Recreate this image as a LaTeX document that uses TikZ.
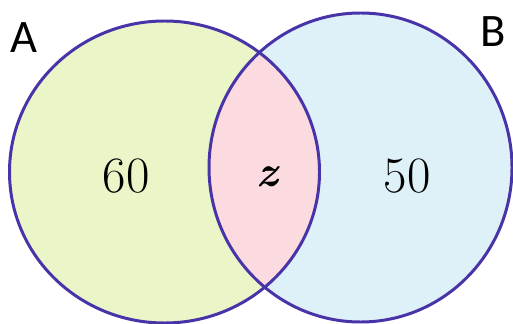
\documentclass[tikz,border=0pt]{standalone}
\usepackage{fontspec}
\usepackage{xcolor}
\usepackage{tikz}
\newfontfamily\setfont{Carlito}
\definecolor{setline}{RGB}{72,52,168}
\definecolor{setA}{RGB}{234,246,200}
\definecolor{setB}{RGB}{222,241,249}
\definecolor{setAB}{RGB}{251,219,224}

\begin{document}
\begin{tikzpicture}[x=0.02cm,y=-0.02cm]
\tikzstyle{every node}+=[inner sep=0pt]
\tikzstyle{setname}=[font=\setfont\fontsize{26.5}{28}\selectfont]
\tikzstyle{count}=[font=\fontsize{29}{30}\selectfont]
\useasboundingbox (0,0) rectangle (513,324);
\fill [setA] (164.5,172) ellipse (155 and 151);
\fill [setB] (360.5,167.5) ellipse (151.5 and 154.5);
\begin{scope}
\clip (164.5,172) ellipse (155 and 151);
\fill [setAB] (360.5,167.5) ellipse (151.5 and 154.5);
\end{scope}
\draw [setline, line width=1.7pt] (164.5,172) ellipse (155 and 151);
\draw [setline, line width=1.7pt] (360.5,167.5) ellipse (151.5 and 154.5);
\node [setname] (nameA) at (23.5,38) {A};
\node [setname] (nameB) at (493,32) {B};
\node [count] (onlyA) at (126,176) {60};
\node [count, font=\fontsize{25}{26}\selectfont] (both) at (268,177) {\textbf{\textit{z}}};
\node [count] (onlyB) at (407,176) {50};
\end{tikzpicture}
\end{document}
